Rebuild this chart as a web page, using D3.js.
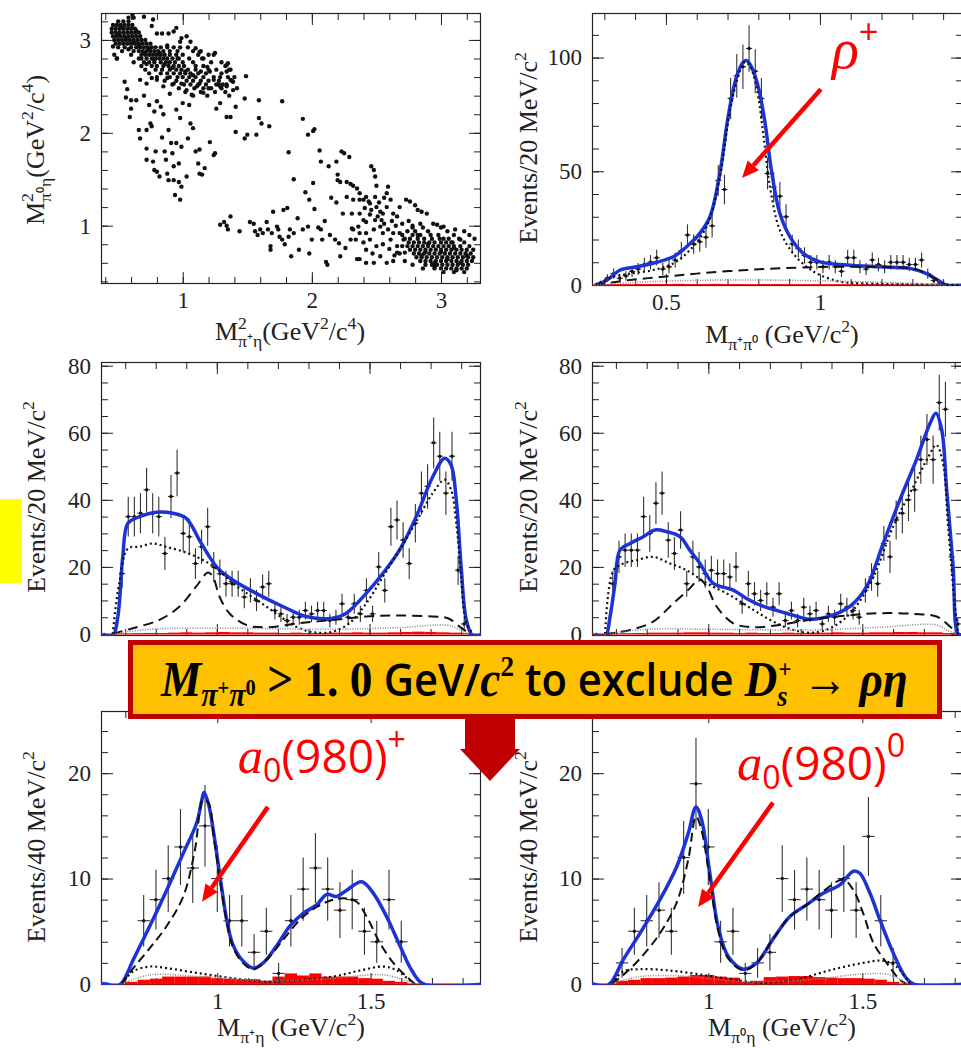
<!DOCTYPE html>
<html>
<head>
<meta charset="utf-8">
<script src="https://cdn.jsdelivr.net/npm/d3@7"></script>
<style>
  body { margin: 0; background: #fff; }
  svg { display: block; }
  .tick text { font-family: "Liberation Serif", "Times New Roman", serif; font-size: 23px; fill: #222; }
  .tick line { stroke: #222; stroke-width: 1; }
</style>
</head>
<body>
<svg id="fig" width="961" height="1048"></svg>
<script>
// ---------------- data ----------------

// Dalitz plot: dense parts as rows [y, [x...]], sparse parts as [x, y] pairs
var dalitzRowsUpper = [
  [3.24, [0.58, 0.62]],
  [3.20, [0.50, 0.54, 0.58]],
  [3.16, [0.46, 0.49, 0.52, 0.55, 0.58, 0.61]],
  [3.12, [0.45, 0.48, 0.51, 0.54, 0.57, 0.60, 0.63]],
  [3.08, [0.45, 0.48, 0.51, 0.54, 0.57, 0.60, 0.63, 0.66]],
  [3.04, [0.46, 0.49, 0.52, 0.55, 0.58, 0.61, 0.64, 0.67]],
  [3.00, [0.47, 0.50, 0.53, 0.56, 0.59, 0.62, 0.65, 0.68, 0.71]],
  [2.96, [0.48, 0.51, 0.54, 0.57, 0.60, 0.63, 0.66, 0.69, 0.72, 0.75]],
  [2.92, [0.50, 0.55, 0.60, 0.64, 0.67, 0.70, 0.73, 0.76, 0.79, 0.83, 0.88, 0.93, 0.98, 1.04]],
  [2.88, [0.53, 0.62, 0.66, 0.69, 0.72, 0.75, 0.78, 0.81, 0.85, 0.90, 0.96, 1.08, 1.14]],
  [2.84, [0.47, 0.60, 0.68, 0.71, 0.74, 0.77, 0.80, 0.83, 0.86, 0.90, 0.95, 1.00, 1.12, 1.20]],
  [2.80, [0.49, 0.66, 0.72, 0.76, 0.79, 0.82, 0.85, 0.88, 0.92, 0.97, 1.05, 1.16]],
  [2.76, [0.62, 0.70, 0.74, 0.78, 0.83, 0.87, 0.90, 0.94, 1.00, 1.08, 1.22, 1.30]],
  [2.72, [0.68, 0.76, 0.80, 0.85, 0.89, 0.93, 0.97, 1.01, 1.10, 1.16, 1.33]],
  [2.68, [0.71, 0.79, 0.84, 0.90, 0.95, 0.99, 1.04, 1.10, 1.20, 1.26, 1.36]],
  [2.64, [0.74, 0.83, 0.88, 0.93, 0.98, 1.02, 1.06, 1.12, 1.18, 1.30]],
  [2.60, [0.80, 0.90, 0.96, 1.00, 1.05, 1.10, 1.16, 1.24, 1.35, 1.40]],
  [2.56, [0.86, 0.95, 1.03, 1.08, 1.14, 1.20, 1.28, 1.38]],
  [2.52, [0.92, 1.01, 1.06, 1.12, 1.18, 1.28, 1.34]],
  [2.48, [0.97, 1.09, 1.16, 1.22, 1.30]],
  [2.44, [1.02, 1.14, 1.25, 1.33]],
  [2.40, [1.08, 1.19, 1.36]]
];
var dalitzRowsLower = [
  [0.98, [2.78, 2.86, 3.00]],
  [0.94, [2.74, 2.80, 2.90, 3.05, 3.18]],
  [0.90, [2.70, 2.78, 2.84, 2.92, 2.98, 3.10, 3.22]],
  [0.86, [2.72, 2.76, 2.82, 2.87, 2.93, 2.99, 3.06, 3.14, 3.26]],
  [0.82, [2.75, 2.79, 2.83, 2.87, 2.91, 2.95, 3.00, 3.04, 3.09, 3.18]],
  [0.78, [2.66, 2.74, 2.78, 2.82, 2.86, 2.90, 2.94, 2.98, 3.02, 3.06, 3.10, 3.15]],
  [0.74, [2.76, 2.80, 2.84, 2.88, 2.92, 2.96, 3.00, 3.04, 3.08, 3.12, 3.16, 3.20, 3.25]],
  [0.70, [2.68, 2.79, 2.83, 2.87, 2.91, 2.95, 2.99, 3.03, 3.07, 3.11, 3.15, 3.19, 3.23]],
  [0.66, [2.81, 2.85, 2.89, 2.93, 2.97, 3.01, 3.05, 3.09, 3.13, 3.17, 3.21, 3.25]],
  [0.62, [2.72, 2.84, 2.88, 2.92, 2.96, 3.00, 3.04, 3.08, 3.12, 3.16, 3.20, 3.24]],
  [0.58, [2.78, 2.88, 2.93, 2.97, 3.01, 3.05, 3.09, 3.13, 3.17, 3.21]],
  [0.54, [2.86, 2.95, 3.00, 3.04, 3.08, 3.12, 3.16, 3.20]],
  [0.50, [3.02, 3.10, 3.18]]
];
var dalitzSparse = [
  [0.61,3.27],[0.70,3.25],[0.77,3.22],[0.76,3.15],[0.80,3.07],[0.84,3.07],[0.89,3.07],[0.93,3.09],[0.95,3.13],[0.99,3.02],
  [0.98,2.98],[1.03,3.04],[1.06,2.98],[1.10,2.91],[1.13,2.87],[1.15,2.80],[1.24,2.84],[1.25,2.86],[1.19,2.71],[1.21,2.66],
  [1.24,2.57],[1.26,2.52],[1.29,2.50],[1.31,2.52],[1.34,2.50],[1.37,2.57],[1.39,2.55],[1.34,2.73],[1.34,2.66],[1.29,2.60],
  [1.20,2.48],[1.16,2.43],[1.13,2.53],[1.11,2.50],[1.07,2.41],[1.03,2.46],[0.99,2.53],[0.93,2.53],[0.88,2.59],[0.85,2.50],
  [0.80,2.57],[0.76,2.59],[0.72,2.53],[0.67,2.57],[0.60,2.35],[1.35,2.75],[1.37,2.68],[1.39,2.46],[1.42,2.48],[1.48,2.37],
  [1.41,2.28],[1.37,2.17],[1.34,2.17],[1.29,2.32],[1.26,2.26],[1.49,2.61],[0.46,2.93],[0.49,2.80],[0.55,2.55],[0.57,2.47],
  [0.56,2.38],
  [0.59,2.17],[0.60,2.26],[0.64,2.35],[0.66,2.03],[0.67,1.94],[0.72,2.03],[0.72,1.83],[0.72,1.71],[0.75,2.10],[0.76,2.07],
  [0.77,1.69],[0.78,2.23],[0.80,2.34],[0.79,1.80],[0.80,1.58],[0.82,1.53],[0.83,2.28],[0.86,1.80],[0.87,1.71],[0.88,1.56],
  [0.89,2.03],[0.89,1.49],[0.91,1.89],[0.92,1.78],[0.93,1.64],[0.93,1.49],[0.94,1.33],[0.95,1.89],[0.97,1.67],[0.97,1.47],
  [0.98,1.28],[0.98,2.16],[0.99,1.85],[1.00,2.32],[0.99,1.42],[1.04,1.94],[1.06,2.10],[1.08,2.05],[1.10,1.80],[1.12,1.67],
  [1.13,1.56],[1.15,1.55],[1.17,1.62],[1.21,1.90],[1.24,1.76],[1.25,1.78],[1.13,1.82],[1.03,1.53],[0.70,2.40],[0.85,2.20],
  [0.90,2.42],[0.74,2.30],[0.95,2.25],[1.05,2.30],[0.84,1.95],[0.78,1.60],
  [1.41,2.01],[1.50,1.98],[1.48,1.94],[1.57,1.98],[1.59,2.35],[1.59,2.16],[1.61,2.10],[1.67,2.07],[1.77,2.34],[1.82,1.79],
  [1.86,1.50],[1.93,2.15],[1.95,1.36],[1.97,1.98],[2.01,2.02],[2.02,2.04],[2.01,1.46],[1.98,1.28],[2.06,1.81],[2.07,1.69],
  [2.13,1.64],[2.19,1.69],[2.23,1.80],[2.25,1.78],[2.29,1.74],[2.20,1.55],
  [1.29,1.01],[1.32,1.04],[1.34,1.00],[1.37,1.10],[1.35,0.96],[1.44,0.94],[1.52,1.04],[1.55,1.02],[1.56,0.94],[1.60,0.96],
  [1.62,0.92],[1.65,1.04],[1.66,0.96],[1.69,0.92],[1.70,1.15],[1.73,0.99],[1.74,0.96],[1.68,0.78],[1.68,0.74],[1.77,0.85],
  [1.78,1.17],[1.81,1.19],[1.82,0.88],[1.83,0.96],[1.84,0.67],[1.86,0.92],[1.89,1.08],[1.90,0.74],[1.93,0.96],[1.97,0.99],
  [1.98,0.70],[2.00,0.85],[2.07,0.96],[2.08,0.85],[2.11,0.61],[2.12,0.58],[2.14,0.90],[2.18,0.85],[2.21,0.81],[2.22,0.67],
  [2.26,0.76],[2.31,0.97],[2.30,0.85],[1.58,0.90],[1.75,0.88],[1.79,0.80],[2.02,1.18],[2.10,1.05],[2.15,1.30],[2.05,0.98],
  [2.20,1.49],[2.19,1.25],[2.22,1.47],[2.27,1.47],[2.30,1.45],[2.32,1.43],[2.35,1.40],[2.37,1.35],[2.40,1.28],[2.37,1.28],
  [2.42,1.31],[2.46,1.64],[2.48,1.60],[2.49,1.53],[2.50,1.43],[2.49,1.31],[2.45,1.24],[2.46,1.17],[2.50,1.20],[2.53,1.15],
  [2.55,1.13],[2.58,1.20],[2.59,1.42],[2.58,1.35],[2.61,1.28],[2.63,1.13],[2.66,1.10],[2.68,1.20],[2.73,1.28],[2.76,1.26],
  [2.80,1.22],[2.82,1.17],[2.85,1.15],[2.89,1.13],[2.94,1.02],[2.97,1.01],[3.02,0.99],[3.11,0.96],[3.15,0.85],[3.22,0.78],
  [2.37,1.13],[2.40,1.06],[2.42,1.04],[2.36,0.99],[2.32,0.96],[2.34,0.85],[2.37,0.92],[2.42,0.92],[2.45,0.85],[2.48,0.96],
  [2.53,0.99],[2.55,0.92],[2.59,0.96],[2.61,0.85],[2.63,0.92],[2.50,0.78],[2.42,0.74],[2.48,0.60],[2.42,0.60],[2.53,0.67],
  [2.58,0.60],[2.63,0.62],[2.35,0.64],[2.37,0.64],[2.51,1.10],[2.54,1.06],[2.56,1.02],[2.49,1.06],[2.45,1.12],[2.41,1.19],
  [2.44,1.26],[2.68,0.92],[2.71,0.85],[2.70,0.78],[2.66,0.71],[2.72,0.71],[2.27,1.31],[2.24,1.13],[2.31,1.13],[2.32,1.28],
  [2.52,1.25],[2.56,1.30],[2.62,1.05],[2.65,1.00],[2.70,1.02],[2.75,1.05],[2.78,1.00],[2.84,1.02],[2.60,0.75],[2.55,0.80],
  [2.47,0.70],[2.40,0.82],[2.64,0.68],
  [0.52,3.14],[0.56,3.02],[0.50,3.06],[0.62,2.98],[0.58,2.90],[0.66,2.94],[0.70,2.86],[0.74,2.90],[0.78,2.78],[0.82,2.86],
  [0.86,2.74],[0.92,2.70],[0.96,2.80],[1.02,2.66],[1.08,2.62],[1.14,2.66],[0.64,3.10],[0.68,2.80],[0.88,2.94],[0.72,2.74],
  [2.85,0.68],[2.95,0.60],[3.05,0.64],[3.15,0.60],[2.90,0.80],[3.00,0.72],[3.10,0.76],[3.20,0.68],[2.82,0.90],[3.02,0.86],
  [2.95,0.56],[3.12,0.52],[2.88,0.72],[3.08,0.82]
];

// M(pi+ pi0) spectrum, 20 MeV bins from 0.28
var rhoLo = 0.28, rhoW = 0.02;
var rhoCounts = [1,3,5,3,4,6,7,9,10,12,7,8,11,15,22,18,19,21,26,46,42,82,92,96,104,94,82,49,43,39,
  30,18,16,13,10,10,8,10,8,6,12,12,8,7,11,9,8,10,10,10,9,9,11,5,2,1,0];
var rhoBlue = [[0.27,0],[0.307,2],[0.35,6.5],[0.405,8],[0.47,10],[0.524,12.4],[0.567,16.8],[0.61,22.7],[0.643,30],
  [0.675,49],[0.702,74],[0.729,91.4],[0.751,98],[0.762,98.7],[0.778,95.8],[0.8,87],[0.821,72],[0.843,50],[0.87,31.4],
  [0.903,21.2],[0.946,13.9],[1.0,10.2],[1.087,8.8],[1.195,8],[1.292,7.3],[1.346,5],[1.39,1.5],[1.41,0],[1.47,0]];
var rhoDot = [[0.27,0],[0.33,3.6],[0.383,5],[0.459,6.6],[0.524,9.5],[0.578,15.4],[0.632,25.6],[0.675,47.5],[0.708,76.8],
  [0.74,94],[0.756,98],[0.772,96.5],[0.794,87],[0.816,66.5],[0.838,43],[0.87,24],[0.913,13.9],[0.957,8],[1.0,4.4],
  [1.065,1.5],[1.14,0.7],[1.3,0.3],[1.47,0]];
var rhoDash = [[0.27,0],[0.383,2.2],[0.49,3.6],[0.6,5],[0.762,6.6],[0.924,7.6],[1.03,8],[1.14,8],[1.25,7.7],
  [1.303,7.3],[1.346,5],[1.39,1.5],[1.41,0]];
var rhoGrey = [[0.27,0],[0.383,1],[0.545,1.9],[0.762,2.2],[0.978,1.9],[1.195,1.2],[1.357,0.4],[1.41,0]];
var rhoRedLo = 0.28, rhoRedW = 0.04;
var rhoRed = [0.2,0.3,0.3,0.4,0.4,0.4,0.5,0.4,0.4,0.5,0.4,0.4,0.3,0.4,0.4,0.3,0.3,0.3,0.3,0.3,0.3,0.3,0.3,0.3,0.2,0.2,0.2,0.1];

// M(pi+ eta) and M(pi0 eta), full sample, 20 MeV bins from 0.68
var midLo = 0.68, midW = 0.02;
var midLCounts = [18,35,35,36,43,36,35,24,41,48,30,29,21,26,32,20,
  18,15,15,15,11,13,10,14,15,7,6,4,5,5,7,6,7,7,4,5,9,5,9,6,13,
  6,20,13,32,34,28,21,33,42,44,57,53,42,53,19,3];
var midRCounts = [15,23,25,25,25,35,30,39,42,28,24,31,15,23,20,18,
  19,18,18,17,20,9,15,12,10,12,8,12,4,7,4,8,6,7,3,6,5,9,8,7,5,
  13,17,15,27,23,34,36,40,43,52,58,52,69,67,23,3];
var midLBlue = [[0.627,0],[0.659,-0.6],[0.676,5.2],[0.692,23],[0.709,33],[0.747,35],[0.801,36.3],[0.856,36],[0.9,34.5],
  [0.943,28],[0.976,23],[1.003,19.6],[1.052,16.1],[1.14,11.6],[1.216,8.2],[1.293,5.2],[1.38,4.7],[1.424,6.2],[1.489,12.1],
  [1.544,18.1],[1.598,25],[1.653,35],[1.707,46.9],[1.746,52.4],[1.767,50.4],[1.784,40],[1.8,20],[1.817,4.2],[1.838,-0.5],[1.87,0]];
var midLDot = [[0.659,0],[0.68,15],[0.709,25.5],[0.747,26],[0.791,27],[0.834,26],[0.889,24.6],[0.943,22.6],[0.998,19.6],
  [1.052,15.1],[1.107,11.6],[1.162,8.2],[1.216,4.7],[1.27,1.7],[1.325,0.4],[1.38,0.7],[1.434,3.2],[1.489,9.1],[1.544,17.1],
  [1.598,25],[1.653,33.5],[1.707,42],[1.746,46],[1.767,43],[1.784,33],[1.8,17],[1.817,3.2],[1.84,0]];
var midLDash = [[0.659,0],[0.725,1.7],[0.812,4.2],[0.878,8.2],[0.932,14.1],[0.971,18.3],[0.987,17.1],[1.009,11.1],
  [1.041,6.2],[1.096,2.7],[1.162,2],[1.27,3.2],[1.38,4.2],[1.489,5.2],[1.598,5.5],[1.707,5.2],[1.757,4.7],[1.795,2.2],[1.828,0]];
var midLGrey = [[0.659,0],[0.78,1.4],[1.052,1.7],[1.38,1.4],[1.598,1.9],[1.762,2.5],[1.806,0.7],[1.828,0]];
var midRBlue = [[0.632,0],[0.665,-0.8],[0.681,5.2],[0.697,15],[0.713,25],[0.746,27],[0.789,29],[0.827,31],[0.865,30.5],
  [0.908,29],[0.94,25],[0.973,21],[1.016,15.1],[1.081,13.1],[1.124,10.6],[1.179,8.2],[1.254,6.2],[1.33,4.4],[1.406,5.7],
  [1.46,8.2],[1.514,14.1],[1.568,27],[1.622,40],[1.676,52],[1.72,62.8],[1.739,65.8],[1.758,60.8],[1.774,43],[1.795,20],
  [1.812,0],[1.83,0]];
var midRDot = [[0.665,0],[0.692,19],[0.724,21],[0.767,22],[0.821,23],[0.876,21],[0.93,19],[0.995,15.1],[1.07,11.6],
  [1.146,7.2],[1.211,3.7],[1.276,1.2],[1.341,0.4],[1.406,2.2],[1.471,7.2],[1.536,17],[1.6,32],[1.666,44],[1.715,52.9],
  [1.74,56.4],[1.762,51],[1.778,33],[1.8,9],[1.812,0]];
var midRDash = [[0.665,0],[0.746,1.2],[0.821,3.7],[0.886,9.1],[0.94,13.6],[0.971,16.3],[0.995,14.1],[1.027,8.2],
  [1.081,3.2],[1.146,2],[1.232,2.7],[1.341,4.4],[1.449,5.5],[1.557,6.2],[1.666,6],[1.741,5.2],[1.779,2.7],[1.812,0]];
var midRGrey = [[0.665,0],[0.8,1.4],[1.016,1.4],[1.341,1.2],[1.557,2],[1.741,2.7],[1.774,1.2],[1.806,0]];
var midRedLo = 0.68, midRedW = 0.04;
var midLRed = [0.1,0.2,0.3,0.3,0.4,0.5,0.4,0.5,0.6,0.5,0.5,0.4,0.4,0.3,0.4,0.3,0.3,0.4,0.4,0.5,0.4,0.4,0.5,0.6,0.7,0.6,0.5,0.4,0.2];
var midRRed = [0.1,0.2,0.3,0.4,0.4,0.4,0.5,0.5,0.4,0.4,0.3,0.4,0.3,0.3,0.4,0.3,0.4,0.4,0.5,0.4,0.4,0.5,0.5,0.6,0.6,0.5,0.5,0.3,0.2];

// after M(pi+ pi0) > 1.0 cut, 40 MeV bins from 0.70
var botLo = 0.70, botW = 0.04;
var botLCounts = [0,6,8,10,13,11,15,10,6,6,3,5,1,6,9,11,9,7,8,5,4,8,4,0];
var botRCounts = [2,5,6,7,5,12,19,13,4,5,1,2,3,10,8,9,8,7,10,7,14,6,2,0];
var botLRed = [0,0.2,0.4,0.5,0.7,0.7,0.7,0.7,0.55,0.5,0.45,0.45,0.3,0.7,1.0,0.8,1.0,0.7,0.7,0.7,0.55,0.5,0.3,0.2];
var botRRed = [0.3,0.4,0.55,0.55,0.6,0.7,0.85,0.85,0.7,0.6,0.2,0.3,0.65,0.7,0.75,0.75,0.65,0.6,0.55,0.55,0.5,0.4,0.2,0];
var botLBlue = [[0.62,0],[0.639,0],[0.666,-0.25],[0.688,0.06],[0.726,2.3],[0.78,5.5],[0.835,8.9],[0.889,12.4],[0.933,15.3],
  [0.95,17.5],[0.957,18.2],[0.972,17],[0.99,14],[1.01,10],[1.03,6.2],[1.05,3.8],[1.08,2.3],[1.117,1.5],[1.15,2],[1.193,3.6],
  [1.237,5.5],[1.28,6.7],[1.324,7.5],[1.357,8.5],[1.389,8.3],[1.422,8.9],[1.471,9.7],[1.509,8.6],[1.552,6.4],[1.596,3.6],
  [1.634,1.3],[1.672,0],[1.87,0]];
var botLDash = [[0.688,0],[0.726,1.5],[0.78,3.4],[0.835,5.5],[0.889,8.3],[0.927,12.7],[0.954,17.5],[0.971,17.2],[0.99,13.6],
  [1.01,9.6],[1.03,6],[1.05,3.6],[1.08,2.1],[1.117,1.4],[1.161,2.3],[1.215,4.2],[1.27,6.1],[1.324,7.3],[1.378,8],[1.422,8.1],
  [1.454,7.8],[1.487,6.4],[1.53,3.9],[1.574,2],[1.617,0.7],[1.645,0]];
var botLDot = [[0.688,0],[0.726,1.2],[0.78,1.65],[0.835,1.5],[0.943,1.0],[1.052,0.54],[1.161,0.22],[1.27,0.4],[1.378,0.7],
  [1.465,1.27],[1.541,1.65],[1.585,1.3],[1.639,0]];
var botLGrey = [[0.688,0],[0.78,0.86],[0.943,0.7],[1.161,0.3],[1.378,0.54],[1.541,0.86],[1.628,0.2],[1.645,0]];
var botRBlue = [[0.622,0],[0.627,0],[0.665,-0.25],[0.686,0.2],[0.724,2.3],[0.778,4.8],[0.843,8],[0.897,11.1],[0.935,14.3],
  [0.96,16.8],[0.978,15.6],[1.005,10.5],[1.032,5.4],[1.065,2.6],[1.114,1.4],[1.157,2],[1.211,4.3],[1.265,6.4],[1.319,7.5],
  [1.373,8.6],[1.427,9.4],[1.471,10.7],[1.492,10.5],[1.525,8.6],[1.557,6.1],[1.601,2.9],[1.639,0.7],[1.665,0],[1.83,0]];
var botRDash = [[0.686,0],[0.724,0.86],[0.778,2.4],[0.843,4.8],[0.897,7.7],[0.935,11.8],[0.96,15.9],[0.978,14.6],[1.005,9.9],
  [1.032,5.1],[1.065,2.4],[1.114,1.3],[1.157,2],[1.211,4.3],[1.265,6.4],[1.319,7.5],[1.373,8.8],[1.438,9.9],[1.471,8.9],
  [1.503,6.7],[1.536,3.9],[1.579,2],[1.622,0.4],[1.644,0]];
var botRDot = [[0.686,0],[0.724,1.2],[0.778,1.4],[0.865,1.3],[0.962,0.95],[1.07,0.44],[1.179,0.13],[1.287,0.44],[1.395,1.3],
  [1.503,2],[1.568,2.2],[1.611,1.65],[1.655,0]];
var botRGrey = [[0.686,0],[0.778,0.7],[0.908,0.76],[1.124,0.22],[1.341,0.44],[1.503,0.95],[1.59,0.86],[1.644,0]];

// ---------------- drawing ----------------
var SERIF = '"Liberation Serif","Times New Roman",serif';
var SANS = '"Open Sans","Liberation Sans",sans-serif';
var BLUE = '#1c33d6';
var RED = '#ff0000';

var svg = d3.select('#fig');
var defs = svg.append('defs');

// text with tspans for sub/superscripts; parts = [[text, opts], ...]
function rich(sel, parts, base) {
  var shift = 0;
  parts.forEach(function(p) {
    var o = p[1] || {};
    var k = o.k || (o.sup || o.sub ? 0.68 : 1);
    var target = o.sh !== undefined ? o.sh * base : (o.sup ? -0.42 * base : (o.sub ? 0.26 * base : 0));
    var ts = sel.append('tspan').text(p[0])
      .attr('dy', (target - shift).toFixed(2))
      .style('font-size', (base * k) + 'px');
    if (o.dx) ts.attr('dx', (o.dx * base).toFixed(2));
    if (o.it) ts.style('font-style', 'italic');
    if (o.fam) ts.style('font-family', o.fam);
    if (o.w) ts.style('font-weight', o.w);
    shift = target;
  });
}

function panel(p) {
  var g = svg.append('g');
  var x = d3.scaleLinear().domain(p.xd).range([p.x0, p.x1]);
  var y = d3.scaleLinear().domain(p.yd).range([p.y1, p.y0]);
  var cid = 'clip-' + p.id;
  defs.append('clipPath').attr('id', cid).append('rect')
    .attr('x', p.x0).attr('y', p.y0).attr('width', p.x1 - p.x0).attr('height', p.y1 - p.y0);

  // ticks on all four sides, pointing inwards
  function put(axis, tr, vals, size, labels, pad) {
    axis.tickValues(vals).tickSizeInner(-size).tickSizeOuter(0).tickPadding(labels ? pad : 0);
    axis.tickFormat(labels ? d3.format('') : '');
    var s = g.append('g').attr('transform', tr).call(axis);
    s.select('.domain').remove();
    s.attr('font-family', null).attr('font-size', null);
    return s;
  }
  put(d3.axisBottom(x), 'translate(0,' + p.y1 + ')', p.xMin, 7, false);
  put(d3.axisBottom(x), 'translate(0,' + p.y1 + ')', p.xMaj, 12, !p.hideX, 8);
  put(d3.axisTop(x), 'translate(0,' + p.y0 + ')', p.xMin, 7, false);
  put(d3.axisTop(x), 'translate(0,' + p.y0 + ')', p.xMaj, 12, false);
  put(d3.axisLeft(y), 'translate(' + p.x0 + ',0)', p.yMin, 7, false);
  put(d3.axisLeft(y), 'translate(' + p.x0 + ',0)', p.yMaj, 12, true, 10);
  put(d3.axisRight(y), 'translate(' + p.x1 + ',0)', p.yMin, 7, false);
  put(d3.axisRight(y), 'translate(' + p.x1 + ',0)', p.yMaj, 12, false);

  g.append('rect').attr('x', p.x0 + 0.5).attr('y', p.y0 + 0.5)
    .attr('width', p.x1 - p.x0 - 1).attr('height', p.y1 - p.y0 - 1)
    .attr('fill', 'none').attr('stroke', '#222').attr('stroke-width', 1.2);

  // axis titles (the x title of the middle row lies under the banner)
  if (!p.hideX) {
    var xt = g.append('text').attr('x', p.xt[0]).attr('y', p.xt[1])
      .attr('text-anchor', 'middle').style('font-family', SERIF).attr('fill', '#222');
    rich(xt, p.xTitle, 26);
  }
  var yt = g.append('text')
    .attr('transform', 'translate(' + p.yt[0] + ',' + p.yt[1] + ') rotate(-90)')
    .attr('text-anchor', 'middle').style('font-family', SERIF).attr('fill', '#222');
  rich(yt, p.yTitle, 26);

  var plot = g.append('g').attr('clip-path', 'url(#' + cid + ')');
  return { g: g, plot: plot, x: x, y: y };
}

function curve(P, pts, color, width, dash) {
  var line = d3.line().x(function(d) { return P.x(d[0]); }).y(function(d) { return P.y(d[1]); })
    .curve(d3.curveCatmullRom.alpha(0.5));
  var path = P.plot.append('path').datum(pts).attr('d', line)
    .attr('fill', 'none').attr('stroke', color).attr('stroke-width', width)
    .attr('stroke-linejoin', 'round');
  if (dash) path.attr('stroke-dasharray', dash);
}

function redHist(P, lo, w, vals) {
  P.plot.append('line')
    .attr('x1', P.x(P.x.domain()[0])).attr('x2', P.x(P.x.domain()[1]))
    .attr('y1', P.y(0)).attr('y2', P.y(0))
    .attr('stroke', RED).attr('stroke-opacity', 0.7).attr('stroke-width', 1.5);
  P.plot.selectAll(null).data(vals).enter().append('rect')
    .filter(function(d) { return d > 0; })
    .attr('x', function(d, i) { return P.x(lo + i * w); })
    .attr('width', function(d, i) { return P.x(lo + (i + 1) * w) - P.x(lo + i * w); })
    .attr('y', function(d) { return P.y(d); })
    .attr('height', function(d) { return P.y(0) - P.y(d); })
    .attr('fill', RED);
}

function dataPoints(P, lo, w, counts) {
  var pts = counts.map(function(n, i) { return { c: lo + (i + 0.5) * w, n: n }; })
    .filter(function(d) { return d.n > 0; });
  var gp = P.plot.append('g').attr('stroke', '#333').attr('stroke-width', 1.1);
  pts.forEach(function(d) {
    var e = Math.sqrt(d.n);
    gp.append('line').attr('x1', P.x(d.c - w / 2)).attr('x2', P.x(d.c + w / 2))
      .attr('y1', P.y(d.n)).attr('y2', P.y(d.n));
    gp.append('line').attr('x1', P.x(d.c)).attr('x2', P.x(d.c))
      .attr('y1', P.y(d.n - e)).attr('y2', P.y(d.n + e));
  });
  P.plot.append('g').selectAll('circle').data(pts).enter().append('circle')
    .attr('cx', function(d) { return P.x(d.c); }).attr('cy', function(d) { return P.y(d.n); })
    .attr('r', 1.7).attr('fill', '#111');
}

function arrow(P, a, b) {
  var x1 = P.x(a[0]), y1 = P.y(a[1]), x2 = P.x(b[0]), y2 = P.y(b[1]);
  var ang = Math.atan2(y2 - y1, x2 - x1), L = 17, W = 7.5;
  var bx = x2 - L * Math.cos(ang), by = y2 - L * Math.sin(ang);
  svg.append('line').attr('x1', x1).attr('y1', y1).attr('x2', bx).attr('y2', by)
    .attr('stroke', RED).attr('stroke-width', 4.5);
  svg.append('polygon').attr('fill', RED).attr('points', [
    [x2, y2],
    [bx + W * Math.sin(ang), by - W * Math.cos(ang)],
    [bx - W * Math.sin(ang), by + W * Math.cos(ang)]
  ].map(function(q) { return q.join(','); }).join(' '));
}

var xEvt20 = [['Events/20 MeV/c'], ['2', { sup: 1 }]];
var xEvt40 = [['Events/40 MeV/c'], ['2', { sup: 1 }]];

// --- Dalitz plot ---
var D = panel({
  id: 'dalitz', x0: 101, x1: 481, y0: 13, y1: 284,
  xd: [0.367, 3.31], yd: [0.372, 3.29],
  xMaj: [1, 2, 3], xMin: d3.range(0.4, 3.3, 0.2),
  yMaj: [1, 2, 3], yMin: d3.range(0.4, 3.3, 0.2),
  xt: [290, 340], yt: [44, 150],
  xTitle: [['M'], ['2', { sup: 1 }], ['π⁺η', { sub: 1, dx: -0.34 }], ['(GeV'], ['2', { sup: 1 }], ['/c'], ['4', { sup: 1 }], [')']],
  yTitle: [['M'], ['2', { sup: 1 }], ['π⁰η', { sub: 1, dx: -0.34 }], ['(GeV'], ['2', { sup: 1 }], ['/c'], ['4', { sup: 1 }], [')']]
});
var dalitzPts = dalitzSparse.slice();
dalitzRowsUpper.concat(dalitzRowsLower).forEach(function(r) {
  r[1].forEach(function(xv) { dalitzPts.push([xv, r[0]]); });
});
D.plot.append('g').selectAll('circle').data(dalitzPts).enter().append('circle')
  .attr('cx', function(d) { return D.x(d[0]); }).attr('cy', function(d) { return D.y(d[1]); })
  .attr('r', 2.2).attr('fill', '#111');

// --- M(pi+ pi0) ---
var R = panel({
  id: 'rho', x0: 592, x1: 963, y0: 13, y1: 286,
  xd: [0.26, 1.4645], yd: [-0.44, 119.6],
  xMaj: [0.5, 1], xMin: d3.range(0.3, 1.46, 0.1),
  yMaj: [0, 50, 100], yMin: d3.range(0, 120, 10),
  xt: [782, 343], yt: [537, 148],
  xTitle: [['M'], ['π⁺π⁰', { sub: 1 }], [' (GeV/c'], ['2', { sup: 1 }], [')']],
  yTitle: xEvt20
});
redHist(R, rhoRedLo, rhoRedW, rhoRed);
dataPoints(R, rhoLo, rhoW, rhoCounts);
curve(R, rhoBlue, BLUE, 3.5);
curve(R, rhoDash, '#111', 2, '10,6');
curve(R, rhoDot, '#111', 2.2, '2,3');
curve(R, rhoGrey, '#888', 1.6, '1,1.5');

// --- middle row ---
var ML = panel({
  id: 'midL', x0: 101, x1: 481, y0: 362, y1: 636, hideX: true,
  xd: [0.6208, 1.865], yd: [-0.6, 81.1],
  xMaj: [1, 1.5], xMin: d3.range(0.7, 1.86, 0.1),
  yMaj: [0, 20, 40, 60, 80], yMin: d3.range(0, 81, 5),
  yt: [45, 497], yTitle: xEvt20
});
redHist(ML, midRedLo, midRedW, midLRed);
dataPoints(ML, midLo, midW, midLCounts);
curve(ML, midLBlue, BLUE, 3.5);
curve(ML, midLDash, '#111', 2, '10,6');
curve(ML, midLDot, '#111', 2.2, '2,3');
curve(ML, midLGrey, '#888', 1.6, '1,1.5');

var MR = panel({
  id: 'midR', x0: 592, x1: 963, y0: 362, y1: 636, hideX: true,
  xd: [0.6224, 1.827], yd: [-0.6, 81.1],
  xMaj: [1, 1.5], xMin: d3.range(0.7, 1.83, 0.1),
  yMaj: [0, 20, 40, 60, 80], yMin: d3.range(0, 81, 5),
  yt: [537, 497], yTitle: xEvt20
});
redHist(MR, midRedLo, midRedW, midRRed);
dataPoints(MR, midLo, midW, midRCounts);
curve(MR, midRBlue, BLUE, 3.5);
curve(MR, midRDash, '#111', 2, '10,6');
curve(MR, midRDot, '#111', 2.2, '2,3');
curve(MR, midRGrey, '#888', 1.6, '1,1.5');

// --- bottom row ---
var BL = panel({
  id: 'botL', x0: 101, x1: 481, y0: 711, y1: 985,
  xd: [0.6208, 1.86], yd: [-0.1, 25.9],
  xMaj: [1, 1.5], xMin: d3.range(0.7, 1.86, 0.1),
  yMaj: [0, 10, 20], yMin: d3.range(0, 26, 2),
  xt: [291, 1036], yt: [45, 847],
  xTitle: [['M'], ['π⁺η', { sub: 1 }], [' (GeV/c'], ['2', { sup: 1 }], [')']],
  yTitle: xEvt40
});
redHist(BL, botLo, botW, botLRed);
dataPoints(BL, botLo, botW, botLCounts);
curve(BL, botLBlue, BLUE, 3.5);
curve(BL, botLDash, '#111', 2, '9,5');
curve(BL, botLDot, '#111', 2.2, '2,3');
curve(BL, botLGrey, '#888', 1.6, '1,1.5');

var BR = panel({
  id: 'botR', x0: 592, x1: 963, y0: 711, y1: 985,
  xd: [0.6224, 1.827], yd: [-0.1, 25.9],
  xMaj: [1, 1.5], xMin: d3.range(0.7, 1.83, 0.1),
  yMaj: [0, 10, 20], yMin: d3.range(0, 26, 2),
  xt: [782, 1036], yt: [537, 847],
  xTitle: [['M'], ['π⁰η', { sub: 1 }], [' (GeV/c'], ['2', { sup: 1 }], [')']],
  yTitle: xEvt40
});
redHist(BR, botLo, botW, botRRed);
dataPoints(BR, botLo, botW, botRCounts);
curve(BR, botRBlue, BLUE, 3.5);
curve(BR, botRDash, '#111', 2, '9,5');
curve(BR, botRDot, '#111', 2.2, '2,3');
curve(BR, botRGrey, '#888', 1.6, '1,1.5');

// ---------------- annotations ----------------
arrow(R, [1.003, 86.1], [0.747, 47]);
var rt = svg.append('text').attr('x', R.x(1.039)).attr('y', R.y(95.5)).attr('fill', RED);
rich(rt, [['ρ', { it: 1, fam: SERIF }], ['+', { sh: -0.42, k: 0.62, fam: SANS }]], 56);

arrow(BL, [1.165, 16.8], [0.95, 7.8]);
var at1 = svg.append('text').attr('x', BL.x(1.067)).attr('y', BL.y(20)).attr('fill', RED).style('font-family', SANS);
rich(at1, [['a', { it: 1, fam: SERIF, k: 1.1 }], ['0', { sh: 0.2, k: 0.7 }], ['(980)'], ['+', { sh: -0.48, k: 0.7 }]], 46);

arrow(BR, [1.21, 17.2], [0.967, 7.3]);
var at2 = svg.append('text').attr('x', BR.x(1.093)).attr('y', BR.y(19.4)).attr('fill', RED).style('font-family', SANS);
rich(at2, [['a', { it: 1, fam: SERIF, k: 1.1 }], ['0', { sh: 0.2, k: 0.7 }], ['(980)'], ['0', { sh: -0.48, k: 0.7 }]], 46);

// yellow marker at the left edge
svg.append('rect').attr('x', 0).attr('y', 499).attr('width', 22).attr('height', 84).attr('fill', '#ffff00');

// down arrow below the banner
svg.append('polygon').attr('fill', '#c00000')
  .attr('points', '465,712 515,712 515,749 520,749 490,781 460,749 465,749');

// banner
svg.append('rect').attr('x', 130.5).attr('y', 642.5).attr('width', 809).attr('height', 74)
  .attr('fill', '#ffc000').attr('stroke', '#c00000').attr('stroke-width', 5);
var bg = svg.append('g');
var bt = bg.append('text').attr('x', 0).attr('y', 0).style('font-family', SERIF)
  .style('font-weight', 'bold').attr('fill', '#000');
rich(bt, [
  ['M', { it: 1 }], ['π', { sh: 0.2, k: 0.66, it: 1 }], ['+', { sh: -0.02, k: 0.45 }],
  ['π', { sh: 0.2, k: 0.66, it: 1 }], ['0', { sh: -0.02, k: 0.45 }],
  [' > 1. 0 ', { sh: 0 }], ['GeV/', { fam: SANS, k: 0.92, w: 600 }], ['c', { it: 1 }], ['2', { sh: -0.4, k: 0.6 }],
  [' to exclude ', { sh: 0, fam: SANS, k: 0.92, w: 600 }], ['D', { it: 1 }], ['s', { sh: 0.2, k: 0.58, it: 1 }],
  ['+', { sh: -0.36, k: 0.5, dx: -0.2 }], [' → ', { sh: 0, k: 1, fam: SERIF }], ['ρη', { it: 1 }]
], 50);
var bb = bt.node().getBBox();
var sx = 748 / bb.width;
bg.attr('transform', 'translate(' + (160 - bb.x * sx) + ',696) scale(' + sx + ',1)');
</script>
</body>
</html>
